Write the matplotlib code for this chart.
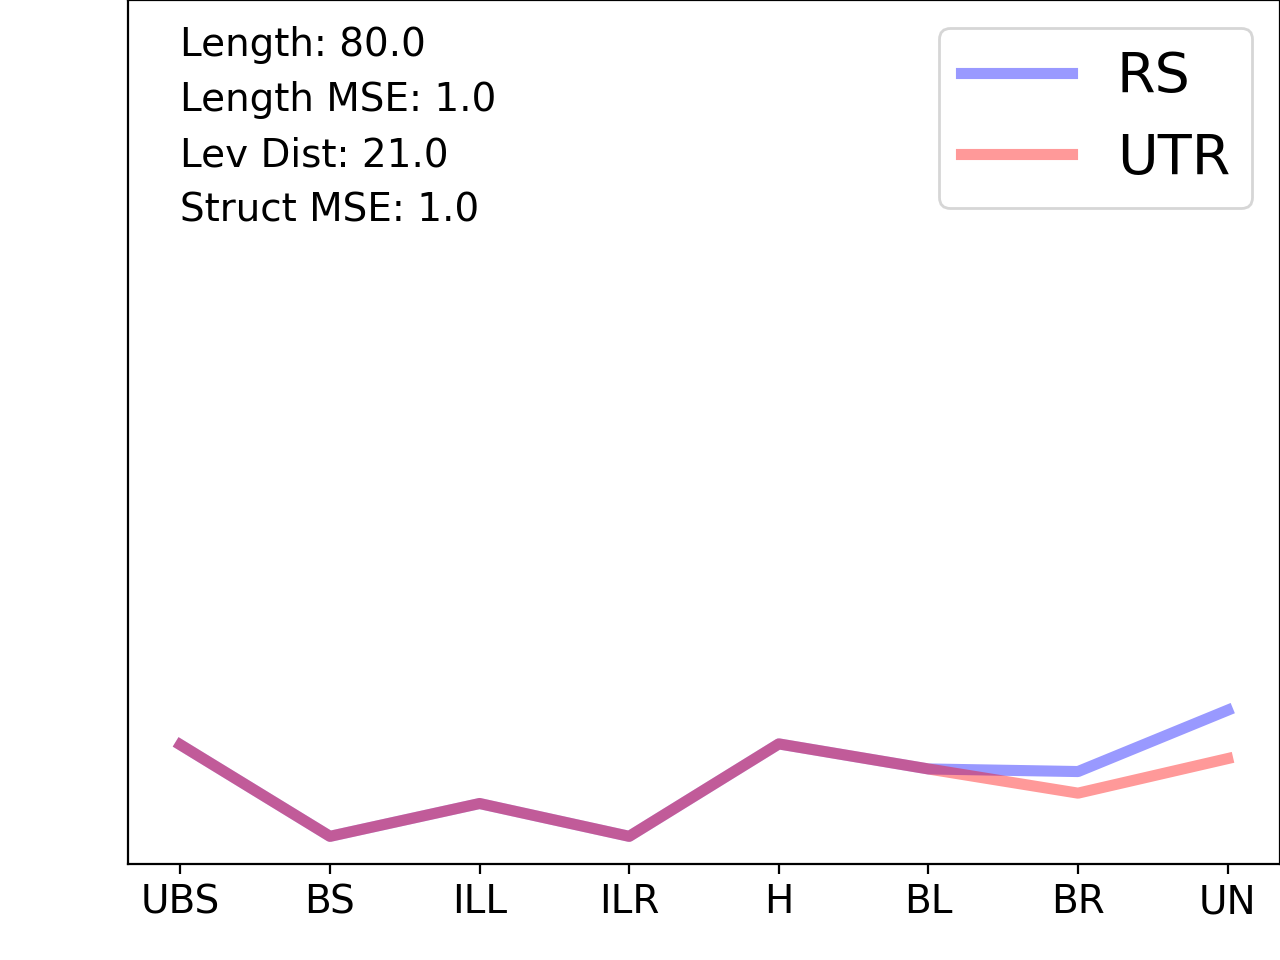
import numpy as np
import matplotlib.pyplot as plt

categories = ['UBS', 'BS', 'ILL', 'ILR', 'H', 'BL', 'BR', 'UN']
rs = [1.38, 0.32, 0.70, 0.32, 1.39, 1.10, 1.07, 1.78]
utr = [1.38, 0.32, 0.70, 0.32, 1.39, 1.10, 0.82, 1.22]
stats = ['Length: 80.0', 'Length MSE: 1.0', 'Lev Dist: 21.0', 'Struct MSE: 1.0']

plt.rcParams['font.size'] = 14
fig = plt.figure(figsize=(6.4, 4.8), dpi=200)
ax = fig.add_axes([0.1, 0.1, 0.9, 0.9])

x = np.arange(len(categories))
ax.plot(x, rs, color='b', alpha=0.4, linewidth=4, label='RS')
ax.plot(x, utr, color='r', alpha=0.4, linewidth=4, label='UTR')

ax.set_xticks(x)
ax.set_xticklabels(categories)
ax.set_yticks([])
ax.set_ylim(0, 10)

ax.text(0.045, 0.970, '\n'.join(stats), transform=ax.transAxes, va='top', ha='left',
        fontsize=14, linespacing=1.57)
ax.legend(loc='upper right', fontsize=20)

fig.savefig('out.png', dpi=200)
